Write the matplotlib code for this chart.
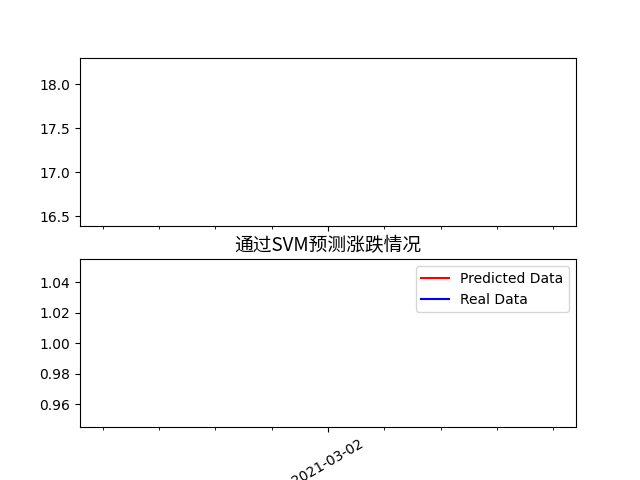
import matplotlib
matplotlib.use("Agg")
import matplotlib.pyplot as plt
import matplotlib.dates as mdates
import pandas as pd

plt.rcParams['font.family'] = ['DejaVu Sans', 'Noto Sans CJK SC']

dates = pd.to_datetime(["2021-03-02"])
close_price = [17.35]
predicted = [1.0]
real = [1.0]

fig, (ax1, ax2) = plt.subplots(2, 1, sharex=True, figsize=(6.4, 4.8), dpi=100)
ax1.plot(dates, close_price)
ax2.plot(dates, predicted, color='red', label='Predicted Data')
ax2.plot(dates, real, color='blue', label='Real Data')
ax2.set_title('通过SVM预测涨跌情况', fontsize=13.5, family=['Noto Sans CJK SC'])
ax2.legend(loc='upper right')
pad = pd.Timedelta(days=2.2)
ax2.set_xlim(dates[0] - pad, dates[0] + pad)
ax2.set_xticks(dates)
ax2.xaxis.set_minor_locator(mdates.HourLocator(byhour=[0, 12]))
ax2.xaxis.set_major_formatter(mdates.DateFormatter('%Y-%m-%d'))
plt.setp(ax2.get_xticklabels(), rotation=30)
fig.savefig('out.png')
